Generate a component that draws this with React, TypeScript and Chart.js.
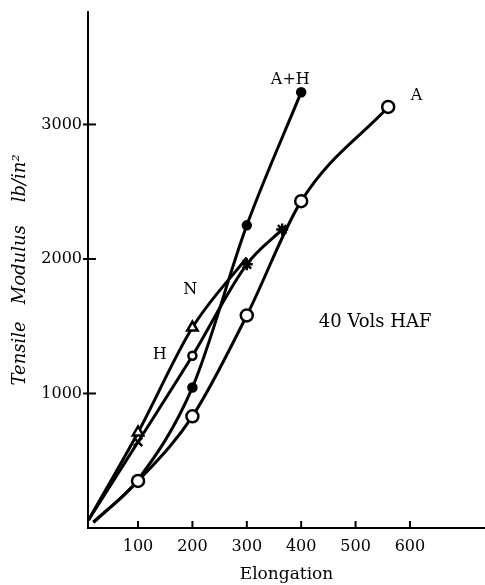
import React, { useEffect, useRef } from "react";
import { Chart, registerables } from "chart.js";

Chart.register(...registerables);

// Elongation (%) and tensile modulus (lb/in²)
const elongA = [18, 100, 200, 300, 400, 560];
const modA = [40, 350, 830, 1580, 2430, 3130];

const elongAH = [18, 100, 200, 300, 400];
const modAH = [45, 360, 1045, 2250, 3240];

const elongN = [9, 100, 200, 300];
const modN = [60, 710, 1490, 2010];

const elongH = [9, 100, 200, 300, 365];
const modH = [60, 640, 1280, 1960, 2220];

const xTickValues = [100, 200, 300, 400, 500, 600];
const yTickValues = [1000, 2000, 3000];

const labelTexts = ["A+H", "A", "N", "H", "40 Vols HAF"];
const labelX = [380, 612, 196, 140, 536];
const labelY = [3330, 3210, 1770, 1290, 1530];

const FONT = "'DejaVu Serif', serif";

const toPts = (xs: number[], ys: number[]) => xs.map((x, i) => ({ x, y: ys[i] }));

const marksPlugin = {
  id: "marks",
  afterDraw(chart: any) {
    const ctx = chart.ctx;
    const xs = chart.scales.x;
    const ys = chart.scales.y;
    ctx.save();
    ctx.strokeStyle = "#000";
    ctx.lineWidth = 2;
    const y0 = ys.getPixelForValue(0);
    xTickValues.forEach((v) => {
      const px = xs.getPixelForValue(v);
      ctx.beginPath();
      ctx.moveTo(px, y0);
      ctx.lineTo(px, y0 - 7);
      ctx.stroke();
    });
    const x0 = xs.left;
    yTickValues.forEach((v) => {
      const py = ys.getPixelForValue(v);
      ctx.beginPath();
      ctx.moveTo(x0 - 5, py);
      ctx.lineTo(x0 + 8, py);
      ctx.stroke();
    });
    ctx.fillStyle = "#000";
    ctx.textAlign = "center";
    ctx.textBaseline = "middle";
    labelTexts.forEach((t, i) => {
      ctx.font = i === 4 ? `18px ${FONT}` : `16px ${FONT}`;
      ctx.fillText(t, xs.getPixelForValue(labelX[i]), ys.getPixelForValue(labelY[i]));
    });
    ctx.restore();
  },
};

const hStyles = ["circle", "crossRot", "circle", "star", "star"];

export default function App() {
  const ref = useRef<HTMLCanvasElement | null>(null);
  useEffect(() => {
    if (!ref.current) return;
    const common = {
      borderColor: "#000",
      borderWidth: 3,
      showLine: true,
      tension: 0.4,
      cubicInterpolationMode: "monotone" as const,
      pointBorderColor: "#000",
      pointBorderWidth: 2.5,
      clip: false as any,
    };
    const chart = new Chart(ref.current, {
      type: "scatter",
      data: {
        datasets: [
          {
            ...common,
            label: "A",
            data: toPts(elongA, modA),
            pointStyle: "circle",
            pointBackgroundColor: "#fff",
            pointRadius: (c: any) => (c.dataIndex === 0 ? 0 : 6),
          },
          {
            ...common,
            label: "A+H",
            data: toPts(elongAH, modAH),
            pointStyle: "circle",
            pointBackgroundColor: "#000",
            pointRadius: (c: any) => (c.dataIndex <= 1 ? 0 : 4),
          },
          {
            ...common,
            label: "N",
            data: toPts(elongN, modN),
            pointStyle: "triangle",
            pointBackgroundColor: "#fff",
            pointRadius: (c: any) => (c.dataIndex === 0 || c.dataIndex === 3 ? 0 : 6),
          },
          {
            ...common,
            label: "H",
            data: toPts(elongH, modH),
            pointStyle: (c: any) => hStyles[c.dataIndex] as any,
            pointBackgroundColor: "#fff",
            pointRadius: (c: any) => (c.dataIndex === 0 ? 0 : c.dataIndex === 2 ? 4 : 6),
          },
        ],
      },
      options: {
        animation: false,
        responsive: false,
        layout: { autoPadding: false, padding: { top: 12, right: 0, left: 0, bottom: 0 } },
        plugins: { legend: { display: false }, tooltip: { enabled: false } },
        scales: {
          x: {
            type: "linear",
            min: 8,
            max: 738,
            grid: { display: false, drawTicks: false },
            border: { display: true, color: "#000", width: 2 },
            afterBuildTicks: (s: any) => {
              s.ticks = xTickValues.map((v) => ({ value: v }));
            },
            afterFit: (s: any) => {
              s.height = 57;
              s.paddingLeft = 0;
              s.paddingRight = 0;
            },
            ticks: {
              color: "#000",
              padding: 9,
              font: { family: FONT, size: 16 },
              maxRotation: 0,
              callback: (v: any) => String(v),
            },
            title: {
              display: true,
              text: "Elongation",
              color: "#000",
              font: { family: FONT, size: 17 },
              padding: { top: 0, bottom: 0 },
            },
          },
          y: {
            type: "linear",
            min: 0,
            max: 3836,
            grid: { display: false, drawTicks: false },
            border: { display: true, color: "#000", width: 2 },
            afterBuildTicks: (s: any) => {
              s.ticks = yTickValues.map((v) => ({ value: v }));
            },
            afterFit: (s: any) => {
              s.width = 88;
              s.paddingTop = 0;
              s.paddingBottom = 0;
            },
            ticks: {
              color: "#000",
              padding: 6,
              font: { family: FONT, size: 16 },
              callback: (v: any) => String(v),
            },
            title: {
              display: true,
              text: "Tensile   Modulus    lb/in²",
              color: "#000",
              font: { family: FONT, size: 18, style: "italic" },
              padding: { top: 10, bottom: 0 },
            },
          },
        },
      },
      plugins: [marksPlugin],
    });
    return () => chart.destroy();
  }, []);
  return (
    <div style={{ position: "absolute", left: 0, top: 0, width: 485, height: 585, background: "#fff" }}>
      <canvas ref={ref} width={485} height={585} />
    </div>
  );
}
